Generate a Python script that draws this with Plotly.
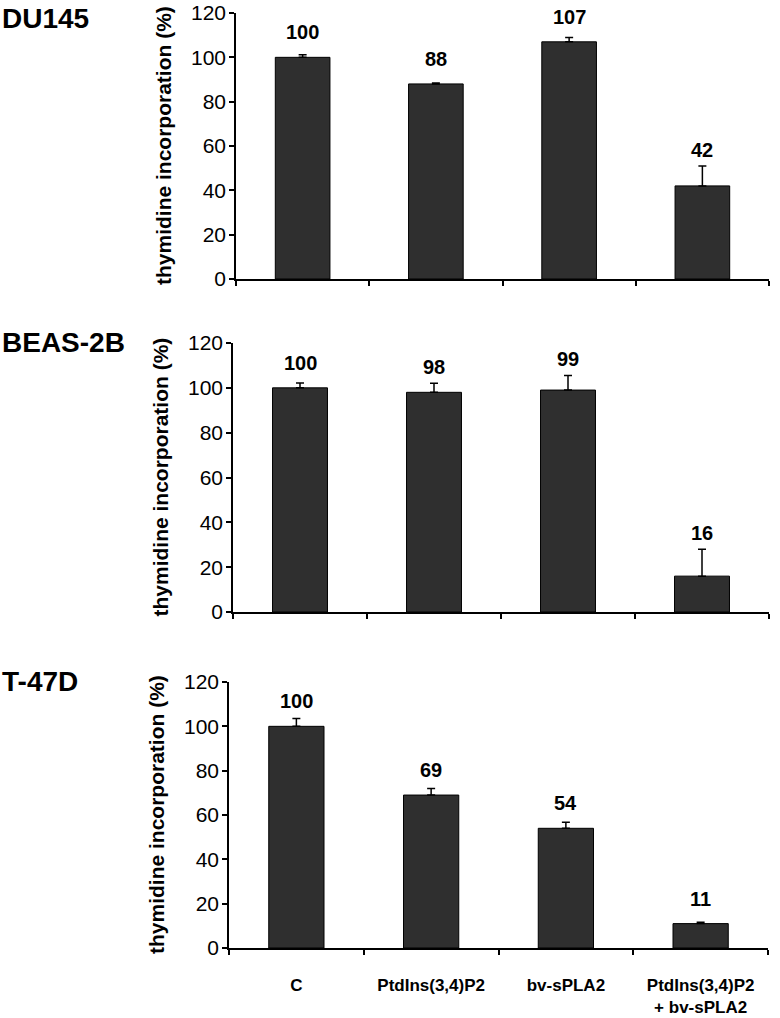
import plotly.graph_objects as go

W, H = 780, 1018

categories = ["C", "PtdIns(3,4)P2", "bv-sPLA2", "PtdIns(3,4)P2<br>+ bv-sPLA2"]
panel_names = ["DU145", "BEAS-2B", "T-47D"]

du145_vals = [100, 88, 107, 42]
du145_err = [1.2, 0.4, 2.0, 9.0]
beas_vals = [100, 98, 99, 16]
beas_err = [2.2, 4.0, 6.5, 12.0]
t47d_vals = [100, 69, 54, 11]
t47d_err = [3.5, 3.0, 2.7, 0.6]

y_ticks = [0, 20, 40, 60, 80, 100, 120]
y_title = "thymidine incorporation (%)"

series = [(du145_vals, du145_err), (beas_vals, beas_err), (t47d_vals, t47d_err)]

# pixel layout: (axis_left, axis_right, top(120), bottom(0), title_y)
geom = [
    (236, 769, 13, 279, 19),
    (233, 769, 343, 612, 342),
    (229, 768, 682, 948, 681),
]

FONT = "Liberation Sans, Arial, Helvetica, sans-serif"
BAR_COLOR = "#2f2f2f"

fig = go.Figure()
annotations = []
layout_axes = {}

for i, ((vals, errs), name, g) in enumerate(zip(series, panel_names, geom)):
    left, right, top, bottom, ty = g
    ppu = (bottom - top) / 120.0  # pixels per data unit
    xa = "x" if i == 0 else f"x{i+1}"
    ya = "y" if i == 0 else f"y{i+1}"
    fig.add_trace(go.Bar(
        x=categories, y=vals, xaxis=xa, yaxis=ya,
        marker=dict(color=BAR_COLOR, line=dict(color="black", width=1)),
        error_y=dict(type="data", array=errs, arrayminus=[0] * len(errs),
                     symmetric=False, color="black", thickness=1.5, width=4),
        showlegend=False, hoverinfo="skip",
    ))
    xkey = "xaxis" if i == 0 else f"xaxis{i+1}"
    ykey = "yaxis" if i == 0 else f"yaxis{i+1}"
    layout_axes[xkey] = dict(
        domain=[left / W, right / W], anchor=ya, type="category",
        range=[-0.5, 3.5], showline=True, linecolor="black", linewidth=1.5,
        ticks="outside", tickson="boundaries", ticklen=5, tickcolor="black",
        tickwidth=1.5, showgrid=False, showticklabels=(i == 2),
        ticklabelstandoff=21,
        tickfont=dict(family=FONT, size=17, color="black", weight="bold"),
        automargin=False, fixedrange=True,
    )
    layout_axes[ykey] = dict(
        domain=[1 - bottom / H, 1 - top / H], anchor=xa,
        range=[0, 120], tickvals=y_ticks, showline=True, linecolor="black",
        linewidth=1.5, ticks="outside", ticklen=5, tickcolor="black",
        tickwidth=1.5, showgrid=False, zeroline=False,
        ticklabelstandoff=-1,
        tickfont=dict(family=FONT, size=21, color="black"),
        automargin=False, fixedrange=True,
    )
    # value labels above bars, lifted clear of the error bar when needed
    for c, v, e in zip(categories, vals, errs):
        shift = max(25.0, e * ppu + 16.0)
        annotations.append(dict(
            x=c, y=v, xref=xa, yref=ya, text=str(v), showarrow=False,
            yanchor="middle", yshift=shift,
            font=dict(family=FONT, size=20, color="black", weight="bold"),
        ))
    # panel title
    annotations.append(dict(
        x=0, y=1 - ty / H, xref="paper", yref="paper", text=name,
        showarrow=False, xanchor="left", yanchor="middle",
        font=dict(family=FONT, size=28, color="black", weight="bold"),
    ))
    # y-axis title
    annotations.append(dict(
        x=(left - 73) / W, y=1 - (top + bottom) / 2 / H, xref="paper", yref="paper",
        text=y_title, showarrow=False, textangle=-90,
        xanchor="center", yanchor="middle",
        font=dict(family=FONT, size=21, color="black", weight="bold"),
    ))

fig.update_layout(
    template="none",
    width=W, height=H, margin=dict(l=0, r=0, t=0, b=0, autoexpand=False),
    paper_bgcolor="white", plot_bgcolor="white",
    bargap=0.59, annotations=annotations, **layout_axes,
)

fig.write_html("out.html", config={"displayModeBar": False},
               post_script="document.body.style.margin='0';document.body.style.padding='0';")
